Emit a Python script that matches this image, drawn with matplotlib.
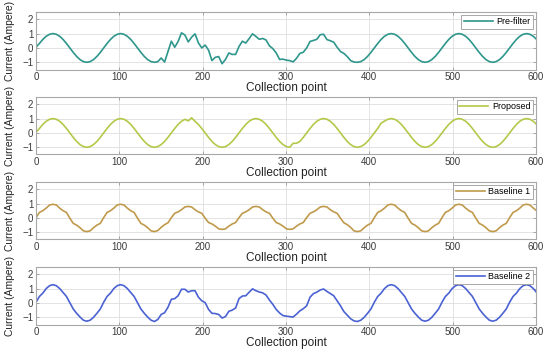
"""
Current waveforms at the collection points: raw signal and three filtered versions.
"""
import numpy as np
import matplotlib.pyplot as plt

plt.rcParams['font.family'] = ['Liberation Sans', 'DejaVu Sans']

# sample positions (collection point index), one value every 4.06 points
collection_pts = np.arange(149) * 4.06

pre_filter = [
    0.05, 0.31, 0.59, 0.81, 0.95, 1.0, 0.95, 0.81, 0.59, 0.31,
    0.0, -0.31, -0.59, -0.81, -0.95, -1.0, -0.95, -0.81, -0.59, -0.31,
    0.0, 0.31, 0.59, 0.81, 0.95, 1.0, 0.95, 0.81, 0.59, 0.31,
    0.0, -0.31, -0.59, -0.81, -0.95, -1.0, -0.95, -0.7, -0.98, -0.25,
    0.47, 0.05, 0.45, 1.05, 0.9, 0.42, 0.75, 0.98, 0.35, 0.0,
    0.2, -0.15, -0.88, -0.65, -0.6, -1.1, -0.8, -0.35, -0.45, -0.45,
    0.1, 0.47, 0.34, 0.65, 0.98, 0.8, 0.6, 0.66, 0.55, 0.15,
    -0.05, -0.35, -0.8, -0.78, -0.85, -0.88, -0.97, -0.72, -0.38, -0.3,
    0.0, 0.45, 0.52, 0.6, 0.92, 0.95, 0.58, 0.5, 0.4, 0.05,
    -0.25, -0.38, -0.6, -0.88, -0.98, -1.0, -0.95, -0.81, -0.59, -0.31,
    0.0, 0.31, 0.59, 0.81, 0.95, 1.0, 0.95, 0.81, 0.59, 0.31,
    0.0, -0.31, -0.59, -0.81, -0.95, -1.0, -0.95, -0.81, -0.59, -0.31,
    0.0, 0.31, 0.59, 0.81, 0.95, 1.0, 0.95, 0.81, 0.59, 0.31,
    0.0, -0.31, -0.59, -0.81, -0.95, -1.0, -0.95, -0.81, -0.59, -0.31,
    0.0, 0.31, 0.59, 0.81, 0.95, 1.0, 0.95, 0.81, 0.59,
]

proposed = [
    0.05, 0.31, 0.59, 0.81, 0.95, 1.0, 0.95, 0.81, 0.59, 0.31,
    0.0, -0.31, -0.59, -0.81, -0.95, -1.0, -0.95, -0.81, -0.59, -0.31,
    0.0, 0.31, 0.59, 0.81, 0.95, 1.0, 0.95, 0.81, 0.59, 0.31,
    0.0, -0.31, -0.59, -0.81, -0.95, -1.0, -0.95, -0.81, -0.59, -0.31,
    0.0, 0.31, 0.59, 0.81, 0.95, 0.84, 1.05, 0.81, 0.59, 0.31,
    0.0, -0.31, -0.59, -0.81, -0.95, -1.0, -0.95, -0.81, -0.59, -0.31,
    0.0, 0.31, 0.59, 0.81, 0.95, 1.0, 0.95, 0.81, 0.59, 0.31,
    0.0, -0.31, -0.59, -0.81, -0.95, -1.0, -0.72, -0.72, -0.59, -0.31,
    0.0, 0.31, 0.59, 0.81, 0.95, 1.0, 0.95, 0.81, 0.59, 0.31,
    0.0, -0.31, -0.59, -0.81, -0.95, -1.0, -0.95, -0.81, -0.59, -0.31,
    0.0, 0.31, 0.68, 0.82, 0.95, 1.0, 0.95, 0.81, 0.59, 0.31,
    0.0, -0.31, -0.59, -0.81, -0.95, -1.0, -0.95, -0.81, -0.59, -0.31,
    0.0, 0.31, 0.59, 0.81, 0.95, 1.0, 0.95, 0.81, 0.59, 0.31,
    0.0, -0.31, -0.59, -0.81, -0.95, -1.0, -0.95, -0.81, -0.59, -0.31,
    0.0, 0.31, 0.59, 0.81, 0.95, 1.0, 0.95, 0.81, 0.59,
]

baseline_1 = [
    0.02, 0.38, 0.5, 0.68, 0.9, 0.95, 0.9, 0.68, 0.5, 0.38,
    -0.02, -0.38, -0.5, -0.68, -0.9, -0.95, -0.9, -0.68, -0.5, -0.38,
    0.02, 0.38, 0.5, 0.68, 0.9, 0.95, 0.9, 0.68, 0.5, 0.38,
    -0.02, -0.38, -0.5, -0.68, -0.9, -0.95, -0.88, -0.65, -0.47, -0.34,
    0.02, 0.32, 0.42, 0.57, 0.76, 0.8, 0.76, 0.57, 0.42, 0.32,
    -0.02, -0.32, -0.42, -0.57, -0.76, -0.8, -0.76, -0.57, -0.42, -0.32,
    0.02, 0.32, 0.42, 0.57, 0.76, 0.8, 0.76, 0.57, 0.42, 0.32,
    -0.02, -0.32, -0.42, -0.57, -0.76, -0.8, -0.76, -0.57, -0.42, -0.32,
    0.02, 0.32, 0.42, 0.57, 0.76, 0.8, 0.76, 0.57, 0.42, 0.32,
    -0.02, -0.34, -0.47, -0.66, -0.9, -0.95, -0.9, -0.68, -0.5, -0.38,
    0.02, 0.38, 0.5, 0.68, 0.9, 0.95, 0.9, 0.68, 0.5, 0.38,
    -0.02, -0.38, -0.5, -0.68, -0.9, -0.95, -0.9, -0.68, -0.5, -0.38,
    0.02, 0.38, 0.5, 0.68, 0.9, 0.95, 0.9, 0.68, 0.5, 0.38,
    -0.02, -0.38, -0.5, -0.68, -0.9, -0.95, -0.9, -0.68, -0.5, -0.38,
    0.02, 0.38, 0.5, 0.68, 0.9, 0.95, 0.9, 0.68, 0.5,
]

baseline_2 = [
    0.05, 0.45, 0.68, 1.0, 1.2, 1.27, 1.2, 1.0, 0.72, 0.45,
    0.02, -0.42, -0.72, -0.98, -1.2, -1.27, -1.2, -1.0, -0.72, -0.42,
    0.05, 0.45, 0.68, 1.0, 1.2, 1.27, 1.2, 1.0, 0.72, 0.45,
    0.02, -0.42, -0.72, -0.98, -1.2, -1.29, -1.15, -0.8, -0.68, -0.3,
    0.25, 0.3, 0.5, 0.95, 0.95, 0.76, 0.85, 0.85, 0.4, 0.15,
    0.02, -0.45, -0.72, -0.74, -0.8, -1.05, -0.95, -0.58, -0.5, -0.35,
    0.3, 0.48, 0.5, 0.75, 0.98, 0.85, 0.76, 0.7, 0.55, 0.2,
    -0.1, -0.45, -0.7, -0.88, -0.92, -0.95, -0.98, -0.78, -0.55, -0.4,
    -0.2, 0.4, 0.65, 0.75, 0.9, 0.97, 0.8, 0.65, 0.5, 0.15,
    -0.2, -0.6, -0.85, -1.1, -1.25, -1.29, -1.2, -1.0, -0.72, -0.42,
    0.05, 0.45, 0.68, 1.0, 1.2, 1.27, 1.2, 1.0, 0.72, 0.45,
    0.02, -0.42, -0.72, -0.98, -1.2, -1.27, -1.2, -1.0, -0.72, -0.42,
    0.05, 0.45, 0.68, 1.0, 1.2, 1.27, 1.2, 1.0, 0.72, 0.45,
    0.02, -0.42, -0.72, -0.98, -1.2, -1.27, -1.2, -1.0, -0.72, -0.42,
    0.05, 0.45, 0.68, 1.0, 1.2, 1.27, 1.2, 1.0, 0.72,
]

series = [pre_filter, proposed, baseline_1, baseline_2]
labels = ["Pre-filter", "Proposed", "Baseline 1", "Baseline 2"]
colors = ["#2e968c", "#b5c84a", "#c09a4c", "#4b62d2"]

x_ticks = [0, 100, 200, 300, 400, 500, 600]
y_ticks = [-1, 0, 1, 2]

fig = plt.figure(figsize=(5.5, 3.55), dpi=100)
bottoms = [0.8042, 0.5648, 0.3254, 0.0859]

for i in range(4):
    ax = fig.add_axes([0.0655, bottoms[i], 0.909, 0.162])
    ax.plot(collection_pts, series[i], color=colors[i], lw=1.2, label=labels[i])
    ax.set_xlim(0, 600)
    ax.set_ylim(-1.5, 2.5)
    ax.set_xticks(x_ticks)
    ax.set_yticks(y_ticks)
    ax.grid(True, color="#dedede", lw=0.6)
    ax.set_axisbelow(True)
    ax.tick_params(direction="in", length=2.5, width=0.6, labelsize=7,
                   colors="#9a9a9a", labelcolor="#3a3a3a",
                   top=True, right=True, pad=2)
    for s in ax.spines.values():
        s.set_color("#a8a8a8")
        s.set_linewidth(0.8)
    ax.set_xlabel("Collection point", fontsize=8.5, color="#222222", labelpad=0)
    ax.set_ylabel("Current (Ampere)", fontsize=7.4, color="#222222", labelpad=5)
    leg = ax.legend(loc="upper right", fontsize=6.5, fancybox=False,
                    handlelength=3.2, borderpad=0.3, borderaxespad=0.3,
                    handletextpad=0.4, framealpha=1)
    leg.get_frame().set_edgecolor("#9a9a9a")
    leg.get_frame().set_linewidth(0.6)

fig.savefig("out.png", dpi=100)
